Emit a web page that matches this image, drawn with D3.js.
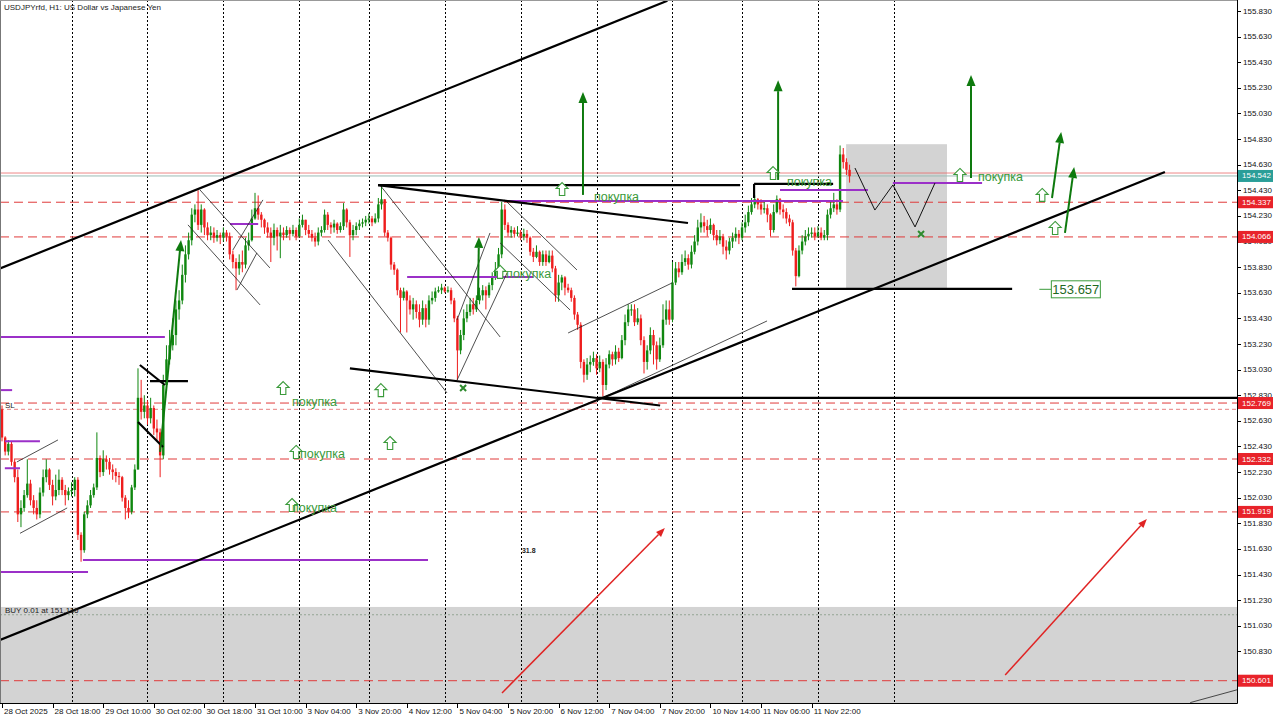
<!DOCTYPE html>
<html><head><meta charset="utf-8">
<script src="https://cdn.jsdelivr.net/npm/d3@7"></script>
<style>body{margin:0;background:#fff;} svg{display:block;font-family:"Liberation Sans",Arial,sans-serif;}</style>
</head><body><svg id="c" width="1280" height="719"></svg>
<script>
// ---------- DATA ----------
const title = "USDJPYrfd, H1:  US Dollar vs Japanese Yen";
const firstOpen = 152.72;
const closes = [
152.50,152.39,152.45,152.31,152.19,151.90,151.95,152.05,152.14,152.01,
151.95,151.90,152.07,152.19,152.25,152.13,152.04,152.09,152.17,152.09,
152.05,152.08,152.09,152.17,151.74,151.62,151.90,151.97,152.05,152.11,
152.34,152.23,152.33,152.31,152.25,152.23,152.20,152.19,152.03,151.95,
151.92,152.11,152.25,152.81,152.70,152.75,152.65,152.73,152.57,152.54,
152.36,152.91,153.11,153.22,153.30,153.50,153.57,153.77,153.93,154.04,
154.24,154.28,154.16,154.28,154.14,154.08,154.10,154.06,154.08,154.06,
154.10,154.07,153.93,153.87,153.82,153.87,153.85,154.00,154.04,154.21,
154.29,154.24,154.20,154.14,154.10,154.06,154.12,154.07,154.10,154.08,
154.12,154.09,154.12,154.07,154.16,154.20,154.12,154.09,154.06,154.03,
154.10,154.12,154.24,154.16,154.14,154.17,154.12,154.15,154.28,154.18,
154.08,154.12,154.15,154.17,154.18,154.20,154.21,154.18,154.21,154.32,
154.36,154.10,154.06,153.85,153.81,153.65,153.59,153.64,153.57,153.50,
153.54,153.48,153.42,153.51,153.42,153.57,153.59,153.64,153.65,153.67,
153.64,153.65,153.57,153.43,153.18,153.30,153.43,153.48,153.54,153.50,
153.57,153.61,153.65,153.61,153.69,153.75,153.81,153.93,154.28,154.16,
154.10,154.12,154.09,154.10,154.07,154.09,154.06,153.95,153.91,153.95,
153.87,153.93,153.87,153.92,153.82,153.61,153.71,153.75,153.67,153.65,
153.59,153.46,153.38,153.09,152.99,153.07,153.09,153.12,153.04,153.09,
152.91,153.07,153.15,153.11,153.17,153.12,153.26,153.40,153.50,153.50,
153.40,153.43,153.26,153.09,153.18,153.30,153.22,153.11,153.22,153.42,
153.50,153.42,153.71,153.82,153.79,153.87,153.90,153.85,153.95,154.03,
154.14,154.18,154.15,154.12,154.16,154.08,154.04,154.07,153.99,153.96,
154.03,154.06,154.09,154.06,154.14,154.18,154.26,154.32,154.36,154.32,
154.28,154.29,154.24,154.12,154.26,154.36,154.28,154.26,154.21,154.18,
153.96,153.76,153.96,154.03,154.07,154.09,154.10,154.07,154.10,154.06,
154.08,154.24,154.29,154.32,154.28,154.71,154.65,154.59,154.54];
const highs = [
152.75,152.51,152.48,152.47,152.33,152.25,152.01,152.09,152.33,152.17,
152.05,152.01,152.11,152.25,152.33,152.26,152.17,152.21,152.25,152.19,
152.13,152.11,152.15,152.19,152.19,151.76,151.92,152.01,152.09,152.14,
152.54,152.36,152.40,152.36,152.34,152.29,152.26,152.23,152.20,152.05,
152.01,152.13,152.29,153.04,152.95,152.83,152.79,152.81,152.75,152.64,
152.57,152.99,153.22,153.34,153.43,153.57,153.65,153.85,154.00,154.10,
154.29,154.32,154.43,154.32,154.29,154.18,154.15,154.14,154.12,154.10,
154.14,154.12,154.10,153.96,153.90,153.93,153.96,154.06,154.10,154.28,
154.41,154.39,154.26,154.21,154.18,154.14,154.17,154.14,154.16,154.14,
154.15,154.14,154.16,154.14,154.21,154.24,154.20,154.16,154.12,154.10,
154.14,154.15,154.28,154.26,154.18,154.20,154.18,154.18,154.33,154.29,
154.20,154.16,154.18,154.20,154.21,154.23,154.25,154.23,154.25,154.37,
154.47,154.36,154.12,154.07,153.87,153.82,153.67,153.67,153.65,153.61,
153.59,153.57,153.54,153.57,153.54,153.61,153.64,153.67,153.68,153.70,
153.68,153.68,153.67,153.59,153.45,153.34,153.50,153.54,153.59,153.59,
153.61,153.67,153.69,153.68,153.71,153.79,153.87,153.98,154.34,154.32,
154.18,154.15,154.14,154.15,154.12,154.13,154.12,154.07,153.98,154.00,
153.96,153.96,153.96,153.96,153.96,153.84,153.77,153.77,153.76,153.70,
153.67,153.61,153.48,153.40,153.11,153.12,153.14,153.17,153.15,153.14,
153.11,153.12,153.18,153.17,153.22,153.20,153.30,153.46,153.54,153.54,
153.54,153.51,153.46,153.29,153.22,153.36,153.34,153.25,153.28,153.54,
153.57,153.57,153.87,153.87,153.87,153.93,153.96,153.93,154.00,154.08,
154.20,154.25,154.23,154.20,154.21,154.17,154.12,154.12,154.09,154.04,
154.06,154.10,154.14,154.12,154.18,154.24,154.31,154.37,154.39,154.37,
154.36,154.34,154.32,154.25,154.32,154.39,154.37,154.32,154.29,154.24,
154.20,153.98,154.00,154.08,154.12,154.14,154.14,154.14,154.15,154.14,
154.12,154.28,154.34,154.41,154.36,154.78,154.76,154.68,154.63];
const lows = [
152.47,152.36,152.36,152.28,152.15,151.84,151.80,151.92,152.03,151.97,
151.90,151.86,151.87,152.04,152.15,152.09,151.97,152.01,152.05,152.05,
151.97,152.01,152.04,152.04,151.70,151.53,151.60,151.87,151.95,152.03,
152.09,152.19,152.20,152.25,152.21,152.17,152.15,152.13,152.00,151.86,
151.87,151.90,152.09,152.25,152.64,152.65,152.60,152.61,152.52,152.48,
152.19,152.33,152.86,153.07,153.18,153.22,153.42,153.54,153.71,153.89,
154.00,154.18,154.12,154.10,154.08,154.04,154.04,154.02,154.03,154.01,
154.03,154.03,153.89,153.82,153.65,153.77,153.79,153.82,153.96,154.03,
154.20,154.20,154.14,154.09,154.06,153.87,154.00,153.96,153.90,154.04,
154.06,154.04,154.07,154.04,154.06,154.14,154.08,154.06,154.03,153.99,
154.00,154.07,154.10,154.12,154.09,154.10,154.09,154.10,154.12,154.14,
153.91,154.04,154.08,154.12,154.14,154.15,154.17,154.15,154.17,154.18,
154.28,154.07,154.03,153.81,153.77,153.61,153.32,153.57,153.32,153.46,
153.42,153.43,153.36,153.38,153.36,153.38,153.54,153.56,153.63,153.62,
153.63,153.63,153.54,153.40,152.95,153.15,153.26,153.40,153.45,153.46,
153.48,153.54,153.57,153.50,153.59,153.65,153.73,153.79,153.90,154.12,
154.07,154.06,154.06,154.07,154.04,154.04,154.02,153.92,153.87,153.90,
153.84,153.84,153.84,153.86,153.79,153.56,153.56,153.65,153.61,153.63,
153.56,153.42,153.34,153.04,152.93,152.95,153.01,153.06,152.99,153.01,
152.82,152.87,153.04,153.06,153.07,153.09,153.11,153.22,153.37,153.45,
153.37,153.38,153.22,153.00,153.03,153.15,153.07,153.03,153.09,153.20,
153.38,153.38,153.40,153.69,153.75,153.77,153.84,153.81,153.82,153.93,
154.00,154.10,154.10,154.07,154.09,154.04,154.00,154.01,153.93,153.89,
153.93,153.98,154.03,154.01,154.04,154.10,154.15,154.24,154.29,154.28,
154.24,154.25,154.18,154.07,154.10,154.25,154.24,154.21,154.17,154.15,
153.92,153.68,153.75,153.93,154.00,154.04,154.06,154.04,154.06,154.04,
154.04,154.04,154.21,154.26,154.24,154.26,154.60,154.55,154.49];

const timeLabelBars = [0,16,32,48,64,80,96,112,128,144,160,176,192,208,224,240,256];
const timeLabels = ["28 Oct 2025","28 Oct 18:00","29 Oct 10:00","30 Oct 02:00","30 Oct 18:00","31 Oct 10:00","3 Nov 04:00","3 Nov 20:00","4 Nov 12:00","5 Nov 04:00","5 Nov 20:00","6 Nov 12:00","7 Nov 04:00","7 Nov 20:00","10 Nov 14:00","11 Nov 06:00","11 Nov 22:00"];
const daySeparatorBars = [22,46,70,94,116,140,164,188,212,234,258,282];
const priceTicks = [155.83,155.63,155.43,155.23,155.03,154.83,154.63,154.43,154.23,154.03,153.83,153.63,153.43,153.23,153.03,152.83,152.63,152.43,152.23,152.03,151.83,151.63,151.43,151.23,151.03,150.83,150.63];
const levelPrices = [154.337,154.066,152.769,152.332,151.919,150.601];
const bidPrice = 154.542, askPrice = 154.565;
const slPrice = 152.72;
const buyPrice = 151.116, buyText = "BUY 0.01 at 151.116";
// zones: [bar1, price1, bar2, price2]
const zones = [[266.9,154.79,298.8,153.66],[-2,151.177,392,150.0]];
// thick black lines [bar1,price1,bar2,price2]
const blackThick = [
 [-0.6,153.82,210.4,155.91],[-0.6,150.92,367.7,154.573],
 [188.5,152.81,390.5,152.81],[118.9,154.47,233.4,154.47],[118.9,154.47,216.9,154.175],
 [237.8,154.48,262.8,154.48],[237.8,154.48,237.8,154.37],[249.8,153.66,319.4,153.66],
 [43.6,153.066,51.5,152.91],[46.8,152.94,58.8,152.94],[43.0,152.621,50.9,152.426],
 [110,153.04,208.1,152.75]];
const blackThin = [
 [62.6,154.433,84.7,153.824],[58.8,154.16,81.6,153.535],[73,153.964,82.5,154.355],[74.3,153.652,80.6,153.941],
 [4.7,152.309,17.7,152.481],[5.7,151.752,20.6,151.95],[119.5,154.472,157.5,153.285],[103.1,154.042,140.7,152.848],
 [143.9,153.418,154.3,154.097],[143.9,152.949,159.7,153.785],[159,154.355,181.8,153.808],[157.5,154.019,179.6,153.496],
 [179,153.316,211.9,153.707],[190,152.81,241.9,153.41],[375.7,150.43,390.5,150.53]];
const zigzag = [[269.7,154.604],[276,154.276],[281.7,154.472],[288.7,154.144],[295,154.487]];
// purple: [price, bar1, bar2]
const purpleLines = [[153.285,-0.6,51.5],[152.87,-0.6,3.2],[152.47,0.9,12],[152.26,0.9,5.7],[151.544,25.6,134.7],
 [151.45,-0.6,27.2],[154.167,72.1,81],[153.754,128.1,167.9],[154.347,159,265.9],[154.433,246,273.8],[154.487,281.7,309.9]];
const greenArrows = [[50,152.387,56.6,154.042],[183.7,154.394,183.7,155.198],[245.4,154.511,245.4,155.29],
 [306.4,154.526,306.4,155.33],[332,154.37,334.9,154.885],[336.1,154.097,339,154.612],[150.5,153.574,150.8,154.066]];
const redArrows = [[158.1,150.505,209.6,151.793],[317.2,150.646,362,151.864]];
const hollowArrows = [[88.9,152.886],[119.8,152.87],[122.7,152.457],[93,152.387],[91.7,151.973],[177.1,154.44],
 [157.5,153.793],[243.8,154.565],[302.9,154.55],[328.9,154.394],[333,154.136]];
const buyTexts = [[91.7,152.777,"покупка"],[94.2,152.371,"покупка"],[91.7,151.95,"покупка"],[187.2,154.378,"покупка"],
 [159.4,153.777,"покупка"],[248.2,154.495,"покупка"],[308.6,154.534,"покупка"]];
const crossMarks = [[145.8,152.886],[290.6,154.089]];
const priceLabelObj = {bar:328, price:153.657, text:"153.657"};
const smallText = {bar:164.4, price:151.6, text:"31.8"};

// ---------- DRAW ----------
const svg = d3.select("#c");
const plotR = 1237, plotB = 703;
const x = d3.scaleLinear().domain([0,390.5]).range([2,plotR]);
const y = d3.scaleLinear().domain([150.63,155.83]).range([677,11]);
svg.append("rect").attr("width",1280).attr("height",719).attr("fill","#fff");
svg.append("defs").append("clipPath").attr("id","clip").append("rect").attr("x",0).attr("y",0).attr("width",plotR).attr("height",plotB);
const g = svg.append("g").attr("clip-path","url(#clip)");

g.selectAll(".zone").data(zones).join("rect")
 .attr("x",d=>x(d[0])).attr("y",d=>y(d[1])).attr("width",d=>x(d[2])-x(d[0])).attr("height",d=>y(d[3])-y(d[1])).attr("fill","#d3d3d3");

g.selectAll(".sep").data(daySeparatorBars).join("line")
 .attr("x1",d=>Math.round(x(d))+0.5).attr("x2",d=>Math.round(x(d))+0.5).attr("y1",0).attr("y2",plotB)
 .attr("stroke","#000").attr("stroke-width",1).attr("stroke-dasharray","2,2");

g.selectAll(".lvl").data(levelPrices).join("line")
 .attr("x1",0).attr("x2",plotR).attr("y1",d=>y(d)).attr("y2",d=>y(d))
 .attr("stroke","#e03a3a").attr("stroke-width",1).attr("stroke-dasharray","9,5");
g.append("line").attr("x1",0).attr("x2",plotR).attr("y1",y(slPrice)).attr("y2",y(slPrice))
 .attr("stroke","#e06060").attr("stroke-width",0.8).attr("stroke-dasharray","4,3");
g.append("line").attr("x1",0).attr("x2",plotR).attr("y1",y(buyPrice)).attr("y2",y(buyPrice))
 .attr("stroke","#93a593").attr("stroke-width",1).attr("stroke-dasharray","2,2");
g.append("line").attr("x1",0).attr("x2",plotR).attr("y1",y(askPrice)).attr("y2",y(askPrice))
 .attr("stroke","#e86a6a").attr("stroke-width",0.8);
g.append("line").attr("x1",0).attr("x2",plotR).attr("y1",y(bidPrice)).attr("y2",y(bidPrice))
 .attr("stroke","#9bbcb4").attr("stroke-width",1);

// candles
const candles = closes.map((c,i)=>{const o=i?closes[i-1]:firstOpen;return {i,o,c,h:Math.max(highs[i],o,c),l:Math.min(lows[i],o,c)};});
const cg = g.append("g");
cg.selectAll(".wick").data(candles).join("line")
 .attr("x1",d=>x(d.i)).attr("x2",d=>x(d.i)).attr("y1",d=>y(d.h)).attr("y2",d=>y(d.l))
 .attr("stroke",d=>d.c>=d.o?"#0f870f":"#ee1d1d").attr("stroke-width",1);
cg.selectAll(".body").data(candles).join("rect")
 .attr("x",d=>x(d.i)-1.2).attr("width",2.4)
 .attr("y",d=>y(Math.max(d.o,d.c))).attr("height",d=>Math.max(1,Math.abs(y(d.o)-y(d.c))))
 .attr("fill",d=>d.c>=d.o?"#0f870f":"#ee1d1d");

// purple lines
g.selectAll(".pur").data(purpleLines).join("line")
 .attr("x1",d=>x(d[1])).attr("x2",d=>x(d[2])).attr("y1",d=>y(d[0])).attr("y2",d=>y(d[0]))
 .attr("stroke","#9b30c8").attr("stroke-width",2);
// thin black
g.selectAll(".thin").data(blackThin).join("line")
 .attr("x1",d=>x(d[0])).attr("y1",d=>y(d[1])).attr("x2",d=>x(d[2])).attr("y2",d=>y(d[3]))
 .attr("stroke","#222").attr("stroke-width",0.8);
g.append("path").attr("d",d3.line().x(d=>x(d[0])).y(d=>y(d[1]))(zigzag)).attr("fill","none").attr("stroke","#111").attr("stroke-width",1);
// thick black
g.selectAll(".thick").data(blackThick).join("line")
 .attr("x1",d=>x(d[0])).attr("y1",d=>y(d[1])).attr("x2",d=>x(d[2])).attr("y2",d=>y(d[3]))
 .attr("stroke","#000").attr("stroke-width",2.2);

function arrow(parent,d,color,w,hl,hw){
  const x1=x(d[0]),y1=y(d[1]),x2=x(d[2]),y2=y(d[3]);
  const a=Math.atan2(y2-y1,x2-x1), ux=Math.cos(a), uy=Math.sin(a);
  const bx=x2-ux*hl, by=y2-uy*hl;
  parent.append("line").attr("x1",x1).attr("y1",y1).attr("x2",bx).attr("y2",by).attr("stroke",color).attr("stroke-width",w);
  parent.append("polygon").attr("points",[[x2,y2],[bx-uy*hw,by+ux*hw],[bx+uy*hw,by-ux*hw]].map(p=>p.join(",")).join(" ")).attr("fill",color);
}
greenArrows.forEach(d=>arrow(g,d,"#0e7a0e",2,11,4.5));
redArrows.forEach(d=>arrow(g,d,"#e02424",1.5,9,3.5));

const hollowPath="M0,-6.5 L6,-0.5 L2.7,-0.5 L2.7,6.5 L-2.7,6.5 L-2.7,-0.5 L-6,-0.5 Z";
g.selectAll(".hol").data(hollowArrows).join("path")
 .attr("transform",d=>`translate(${x(d[0])},${y(d[1])})`).attr("d",hollowPath)
 .attr("fill","#fff").attr("stroke","#3a9a3a").attr("stroke-width",1.1);

g.selectAll(".bt").data(buyTexts).join("text")
 .attr("x",d=>x(d[0])).attr("y",d=>y(d[1])).attr("dominant-baseline","central")
 .attr("font-size",12.5).attr("fill","#3a9a3a").text(d=>d[2]);

crossMarks.forEach(d=>{
 const cx=x(d[0]),cy=y(d[1]);
 g.append("path").attr("d",`M${cx-3},${cy-3}L${cx+3},${cy+3}M${cx+3},${cy-3}L${cx-3},${cy+3}`).attr("stroke","#2e8b2e").attr("stroke-width",2);
});

// price label object
{const px=x(priceLabelObj.bar), py=y(priceLabelObj.price);
 g.append("line").attr("x1",px).attr("x2",px+12).attr("y1",py).attr("y2",py).attr("stroke","#3a9a3a");
 g.append("rect").attr("x",px+12).attr("y",py-8.5).attr("width",49).attr("height",17).attr("fill","#fff").attr("stroke","#3a9a3a");
 g.append("text").attr("x",px+36.5).attr("y",py+0.5).attr("text-anchor","middle").attr("dominant-baseline","central")
  .attr("font-size",13).attr("fill","#1f6a1f").text(priceLabelObj.text);}

g.append("text").attr("x",x(smallText.bar)).attr("y",y(smallText.price)).attr("font-size",7).attr("font-weight","bold").attr("fill","#222").text(smallText.text);
g.append("text").attr("x",5).attr("y",y(slPrice)-1).attr("font-size",8).attr("fill","#222").text("SL");
g.append("text").attr("x",5).attr("y",y(buyPrice)-2).attr("font-size",8).attr("fill","#222").text(buyText);
g.append("text").attr("x",4).attr("y",10).attr("font-size",8).attr("fill","#222").text(title);

// frame & axes
svg.append("line").attr("x1",0.5).attr("x2",0.5).attr("y1",0).attr("y2",plotB).attr("stroke","#777");
svg.append("line").attr("x1",0).attr("x2",plotR).attr("y1",0.5).attr("y2",0.5).attr("stroke","#999");
svg.append("line").attr("x1",plotR+0.5).attr("x2",plotR+0.5).attr("y1",0).attr("y2",plotB+0.5).attr("stroke","#000");
svg.append("line").attr("x1",0).attr("x2",plotR+0.5).attr("y1",plotB+0.5).attr("y2",plotB+0.5).attr("stroke","#000");

const ya = svg.append("g");
ya.selectAll(".yt").data(priceTicks).join("line").attr("x1",plotR).attr("x2",plotR+4).attr("y1",d=>Math.round(y(d))+0.5).attr("y2",d=>Math.round(y(d))+0.5).attr("stroke","#000");
ya.selectAll(".yl").data(priceTicks).join("text").attr("x",plotR+6).attr("y",d=>y(d)).attr("dominant-baseline","central")
 .attr("font-size",8).attr("fill","#111").text(d=>d3.format(".3f")(d));

function tag(p,color){
 ya.append("rect").attr("x",plotR+1).attr("y",y(p)-6).attr("width",35).attr("height",12).attr("fill",color);
 ya.append("text").attr("x",plotR+5).attr("y",y(p)).attr("dominant-baseline","central").attr("font-size",8).attr("fill","#fff").text(d3.format(".3f")(p));
}
levelPrices.forEach(p=>tag(p,"#e8232a"));
tag(bidPrice,"#2a9e98");

const xa = svg.append("g");
xa.selectAll(".xt").data(timeLabelBars).join("line").attr("x1",d=>Math.round(x(d))+0.5).attr("x2",d=>Math.round(x(d))+0.5).attr("y1",plotB).attr("y2",plotB+5).attr("stroke","#000");
xa.selectAll(".xl").data(timeLabelBars).join("text").attr("x",d=>x(d)+2).attr("y",714)
 .attr("font-size",8).attr("fill","#111").text((d,i)=>timeLabels[i]);
</script></body></html>
